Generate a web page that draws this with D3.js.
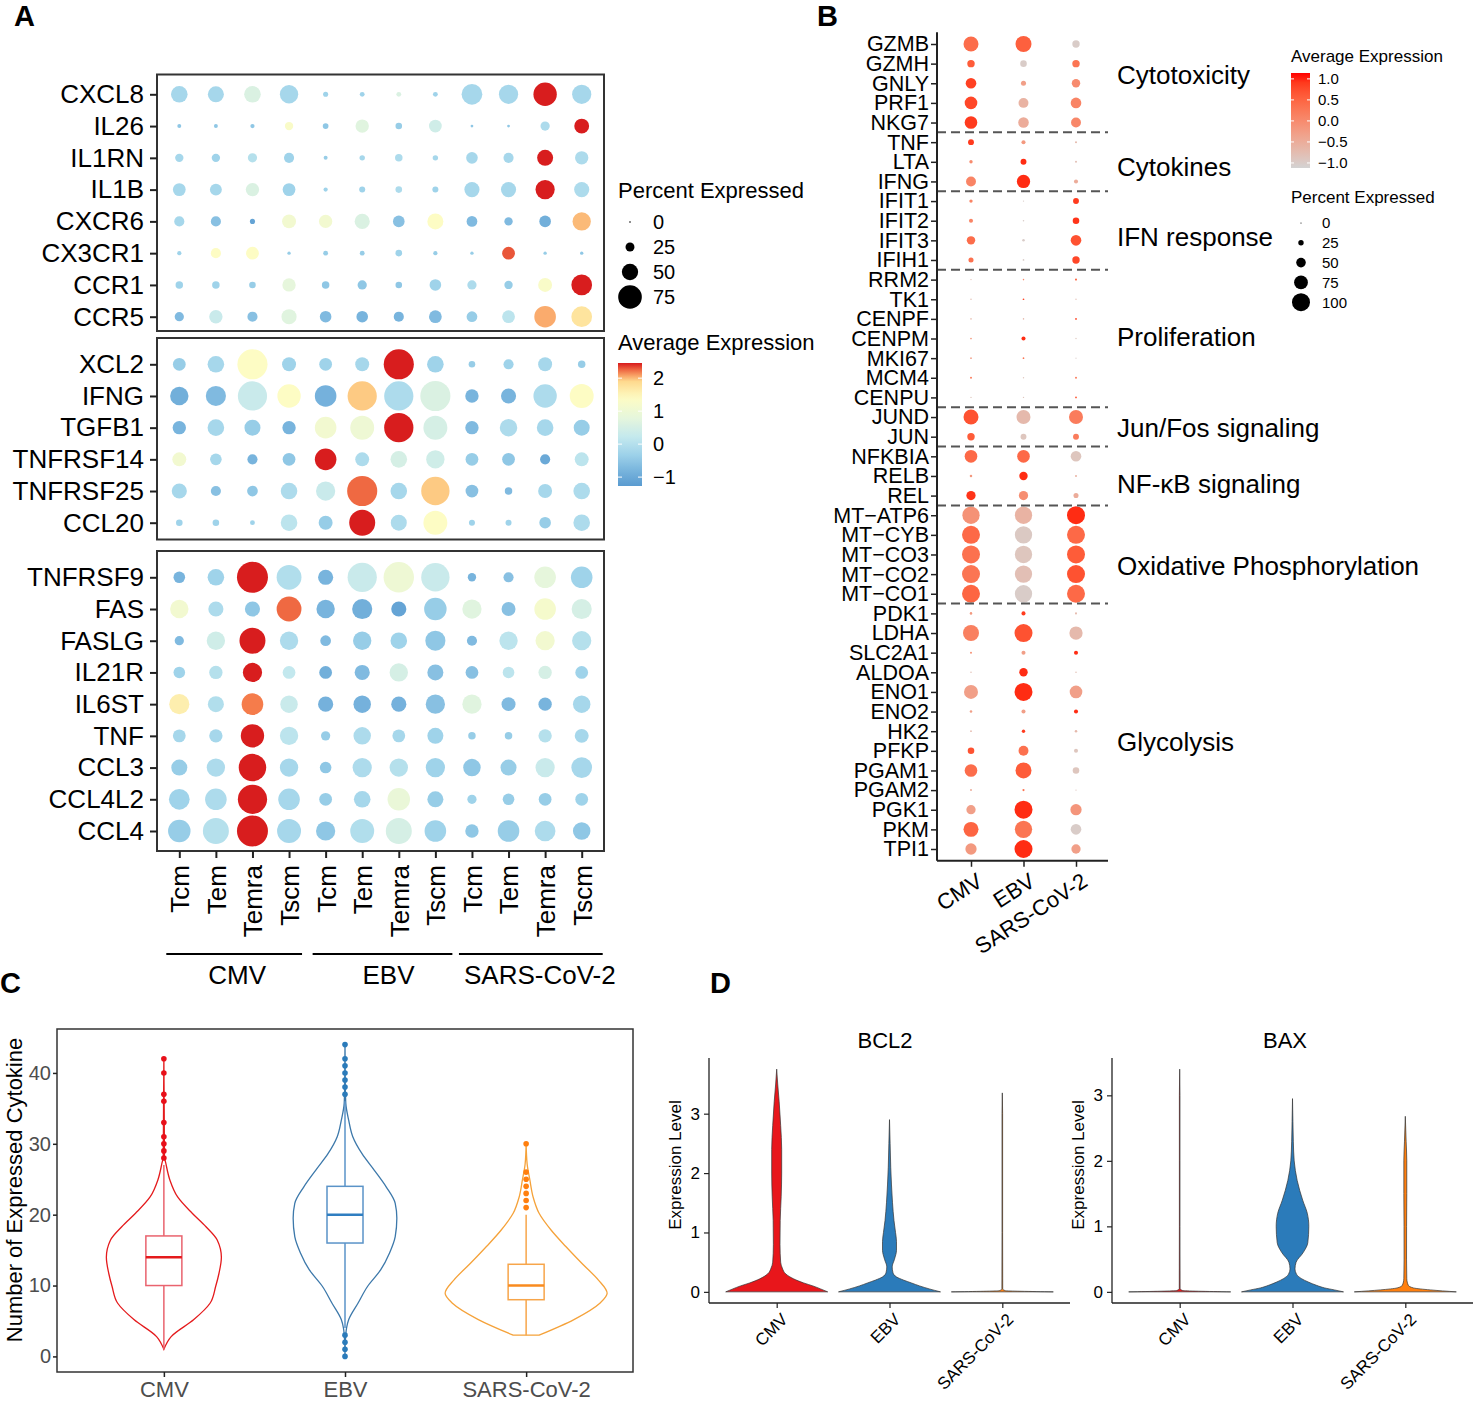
<!DOCTYPE html>
<html>
<head>
<meta charset="utf-8">
<script src="https://cdn.jsdelivr.net/npm/d3@7"></script>
<style>
  body { margin: 0; background: #fff; }
  svg { display: block; font-family: "Liberation Sans", Arial, Helvetica, sans-serif; }
</style>
</head>
<body>
<svg id="fig" width="1476" height="1401"></svg>
<script>
// ---------------- data ----------------
var viruses = ['CMV', 'EBV', 'SARS-CoV-2'];
var cellTypes = ['Tcm', 'Tem', 'Temra', 'Tscm'];

// panel A: each row = one gene, 12 columns = CMV(Tcm,Tem,Temra,Tscm), EBV(...), SARS-CoV-2(...)
var genesA1 = ['CXCL8', 'IL26', 'IL1RN', 'IL1B', 'CXCR6', 'CX3CR1', 'CCR1', 'CCR5'];
var avgA1 = [
  [-0.2, -0.2, 0.6, -0.2, -0.3, -0.3, 0.6, -0.3, -0.2, -0.2, 2.45, -0.2],
  [-0.5, -0.5, -0.5, 1.3, -0.5, 0.7, -0.4, 0.4, -0.5, -0.5, -0.1, 2.45],
  [-0.2, -0.3, 0, -0.3, -0.4, -0.2, -0.1, -0.2, -0.2, -0.2, 2.45, -0.1],
  [-0.2, -0.2, 0.6, -0.3, -0.3, -0.3, -0.1, -0.3, -0.2, -0.2, 2.45, -0.1],
  [-0.2, -0.6, -1.1, 1.1, 1.1, 0.6, -0.6, 1.4, -0.7, -0.7, -0.9, 2.0],
  [-0.3, 1.4, 1.4, -0.4, -0.4, -0.4, -0.3, -0.4, -0.4, 2.3, -0.4, -0.5],
  [-0.3, -0.3, -0.4, 0.8, -0.5, -0.5, -0.5, -0.3, -0.1, -0.4, 1.3, 2.45],
  [-0.7, 0.3, -0.6, 0.7, -0.7, -0.8, -0.8, -0.7, -0.4, 0.1, 2.05, 1.75]
];
var pctA1 = [
  [51, 49, 51, 57, 12, 11, 11, 11, 65, 60, 74, 60],
  [8, 8, 9, 23, 14, 40, 17, 38, 4, 4, 26, 45],
  [23, 23, 26, 29, 8, 13, 20, 13, 34, 29, 49, 40],
  [38, 35, 40, 38, 9, 15, 17, 15, 46, 46, 60, 46],
  [29, 29, 12, 42, 40, 46, 34, 49, 31, 23, 34, 57],
  [9, 29, 38, 6, 11, 11, 17, 9, 6, 38, 6, 6],
  [20, 20, 17, 40, 20, 26, 17, 34, 26, 23, 42, 65],
  [26, 40, 29, 46, 34, 34, 29, 38, 31, 38, 68, 65]
];

var genesA2 = ['XCL2', 'IFNG', 'TGFB1', 'TNFRSF14', 'TNFRSF25', 'CCL20'];
var avgA2 = [
  [-0.4, -0.2, 1.4, -0.3, -0.3, -0.2, 2.45, -0.3, -0.4, -0.3, -0.2, -0.4],
  [-0.9, -0.7, 0.3, 1.4, -0.85, 1.95, -0.1, 0.6, -0.8, -0.8, -0.1, 1.4],
  [-0.8, -0.2, -0.4, -0.8, 1.1, 1.0, 2.45, 0.5, -0.7, -0.1, -0.2, -0.4],
  [1.1, -0.2, -0.8, -0.5, 2.45, -0.1, 0.5, 0.4, -0.4, -0.5, -1.0, 0.1],
  [-0.2, -0.6, -0.5, -0.1, 0.3, 2.25, -0.2, 1.95, -0.6, -0.7, -0.2, -0.1],
  [-0.3, -0.3, -0.3, 0.1, -0.4, 2.45, -0.1, 1.4, -0.3, -0.3, -0.4, -0.1]
];
var pctA2 = [
  [38, 51, 97, 42, 38, 42, 97, 51, 17, 29, 42, 20],
  [57, 63, 94, 74, 68, 94, 94, 97, 40, 46, 74, 76],
  [40, 51, 49, 40, 68, 76, 94, 76, 40, 54, 51, 49],
  [42, 34, 29, 38, 68, 42, 51, 57, 38, 38, 29, 42],
  [46, 29, 31, 51, 60, 97, 51, 91, 38, 20, 42, 51],
  [17, 17, 11, 51, 42, 83, 49, 76, 15, 15, 34, 51]
];

var genesA3 = ['TNFRSF9', 'FAS', 'FASLG', 'IL21R', 'IL6ST', 'TNF', 'CCL3', 'CCL4L2', 'CCL4'];
var avgA3 = [
  [-0.8, -0.3, 2.45, -0.05, -0.8, 0.3, 1.0, 0.3, -0.8, -0.6, 0.8, -0.3],
  [1.1, -0.1, -0.5, 2.25, -0.8, -0.9, -1.1, -0.4, 0.7, -0.6, 1.2, 0.5],
  [-0.7, 0.4, 2.45, -0.1, -0.7, -0.4, -0.3, -0.5, -0.7, 0.1, 1.1, 0.0],
  [-0.3, 0, 2.45, 0.2, -0.9, -0.7, 0.5, -0.6, -0.6, 0.1, 0.5, -0.3],
  [1.6, -0.05, 2.2, 0.3, -0.85, -0.85, -0.85, -0.6, 0.7, -0.7, -0.8, -0.2],
  [-0.2, -0.2, 2.45, 0.1, -0.4, -0.1, -0.2, -0.3, -0.4, -0.4, 0, -0.2],
  [-0.4, -0.1, 2.45, -0.2, -0.5, -0.1, 0.0, -0.3, -0.5, -0.4, 0.3, -0.2],
  [-0.3, -0.1, 2.45, -0.2, -0.4, -0.2, 0.9, -0.4, -0.3, -0.4, -0.4, -0.3],
  [-0.4, 0, 2.45, -0.2, -0.5, -0.05, 0.5, -0.3, -0.5, -0.4, -0.1, -0.5]
];
var pctA3 = [
  [34, 51, 100, 79, 46, 94, 98, 91, 23, 29, 68, 68],
  [57, 46, 46, 79, 57, 63, 46, 71, 60, 42, 68, 63],
  [26, 57, 83, 57, 31, 57, 51, 63, 29, 57, 60, 60],
  [34, 40, 60, 38, 38, 46, 57, 49, 38, 34, 40, 38],
  [63, 49, 68, 54, 46, 54, 46, 60, 60, 42, 40, 54],
  [38, 40, 74, 57, 26, 54, 38, 49, 20, 20, 40, 42],
  [49, 57, 88, 57, 34, 60, 57, 60, 54, 49, 60, 65],
  [65, 68, 94, 68, 38, 51, 71, 49, 26, 34, 38, 38],
  [71, 83, 100, 76, 60, 76, 83, 68, 40, 68, 65, 54]
];
var sizeBreaksA = [0, 25, 50, 75];
var colorBreaksA = [2, 1, 0, -1];

// panel B: columns = CMV, EBV, SARS-CoV-2
var genesB = ['GZMB', 'GZMH', 'GNLY', 'PRF1', 'NKG7', 'TNF', 'LTA', 'IFNG', 'IFIT1', 'IFIT2', 'IFIT3', 'IFIH1',
  'RRM2', 'TK1', 'CENPF', 'CENPM', 'MKI67', 'MCM4', 'CENPU', 'JUND', 'JUN', 'NFKBIA', 'RELB', 'REL',
  'MT\u2212ATP6', 'MT\u2212CYB', 'MT\u2212CO3', 'MT\u2212CO2', 'MT\u2212CO1', 'PDK1', 'LDHA', 'SLC2A1', 'ALDOA',
  'ENO1', 'ENO2', 'HK2', 'PFKP', 'PGAM1', 'PGAM2', 'PGK1', 'PKM', 'TPI1'];
var avgB = [
  [0.4, 0.55, -1], [0.6, -1, 0.3], [0.85, -0.3, 0.0], [0.8, -0.6, 0.1], [0.9, -0.5, 0.05],
  [0.9, -0.2, -0.7], [0.0, 1.0, -0.8], [0.1, 1.0, -0.5],
  [0.1, -1, 0.9], [0.1, -1, 0.95], [0.4, -1, 0.7], [0.35, -1, 0.8],
  [-0.8, 0.0, 0.5], [-0.8, 0.8, -0.8], [-0.7, -0.7, 0.8], [-0.2, 1.0, -0.9], [-0.3, 0.3, -1], [0.3, -0.9, 0.3], [-0.9, -0.9, 0.6],
  [0.7, -0.7, 0.2], [0.6, -0.9, 0.2],
  [0.45, 0.45, -0.9], [-0.2, 1.0, -0.6], [0.95, -0.05, -0.5],
  [-0.1, -0.6, 1.0], [0.45, -0.95, 0.45], [0.35, -0.9, 0.6], [0.3, -0.8, 0.7], [0.5, -1, 0.45],
  [-0.2, 0.9, -0.7], [0.15, 0.7, -0.7], [-0.1, -0.3, 1.0], [-0.8, 1.0, -0.8], [-0.3, 1.0, -0.3],
  [-0.3, -0.3, 1.0], [-0.7, 0.9, -0.7], [0.7, 0.35, -0.9], [0.4, 0.6, -0.9], [-0.5, 0.3, -0.9],
  [-0.3, 1.0, -0.15], [0.5, 0.3, -1], [-0.2, 1.0, -0.3]
];
var pctB = [
  [82, 88, 37], [37, 32, 37], [56, 23, 43], [68, 52, 56], [68, 56, 52],
  [28, 17, 5], [13, 28, 5], [52, 72, 17],
  [13, 1, 28], [17, 2, 32], [43, 8, 56], [23, 3, 37],
  [1, 2, 5], [2, 3, 1], [2, 2, 4], [3, 17, 1], [3, 3, 0], [4, 1, 4], [1, 1, 4],
  [82, 76, 76], [37, 28, 28],
  [68, 68, 56], [8, 43, 5], [48, 48, 23],
  [96, 96, 100], [100, 96, 100], [100, 96, 100], [100, 96, 100], [100, 96, 100],
  [8, 17, 5], [88, 100, 72], [5, 17, 17], [2, 43, 2], [76, 100, 68],
  [8, 17, 17], [3, 13, 8], [32, 52, 17], [68, 88, 32], [5, 6, 1],
  [48, 100, 60], [82, 96, 56], [60, 100, 48]
];
var groupNamesB = ['Cytotoxicity', 'Cytokines', 'IFN response', 'Proliferation', 'Jun/Fos signaling',
  'NF-\u03baB signaling', 'Oxidative Phosphorylation', 'Glycolysis'];
var groupSizesB = [5, 3, 4, 7, 2, 3, 5, 13];
var sizeBreaksB = [0, 25, 50, 75, 100];
var colorBreaksB = [1, 0.5, 0, -0.5, -1];

// panel C: number of expressed cytokines per cell
var cQ1 = [10, 16, 8];
var cMedian = [14, 20, 10];
var cQ3 = [17, 24, 13];
var cWhiskLo = [1, 4, 3];
var cWhiskHi = [27, 36, 20];
var cOutliers = [
  [28, 29, 30, 31, 33, 36, 37, 40, 42],
  [0, 1, 2, 3, 37, 38, 39, 40, 41, 42, 44],
  [21, 22, 23, 24, 25, 26, 30]
];
var cmvLevels = [1, 2.8, 5.2, 7.5, 9.9, 11.7, 14, 16.4, 18.3, 20.2, 22.5, 24.9, 27.2, 28.2, 35, 42];
var cmvDensity = [0, 0.09, 0.37, 0.57, 0.64, 0.68, 0.71, 0.66, 0.52, 0.35, 0.17, 0.074, 0.025, 0.007, 0.004, 0];
var ebvLevels = [0, 2, 4, 5.2, 7.5, 9.9, 12.2, 14.6, 16.9, 19.5, 21.6, 23.9, 26.3, 28.6, 31, 33.3, 35.7, 38, 44];
var ebvDensity = [0, 0.004, 0.019, 0.046, 0.16, 0.28, 0.44, 0.55, 0.62, 0.64, 0.62, 0.51, 0.36, 0.21, 0.096, 0.046, 0.01, 0.004, 0];
var sarsLevels = [3, 5.2, 7.5, 8.9, 10.8, 13.1, 15.5, 17.8, 20.2, 22.5, 24.9, 27.2, 30];
var sarsDensity = [0.16, 0.59, 0.91, 1.0, 0.89, 0.69, 0.49, 0.31, 0.16, 0.086, 0.046, 0.012, 0];
var cTicks = [0, 10, 20, 30, 40];

// panel D: violin profiles (expression level, relative density)
var bcl2Levels = [
  [0, 0.05, 0.1, 0.15, 0.22, 0.3, 0.4, 0.5, 0.8, 1.2, 1.6, 2.0, 2.4, 2.8, 3.2, 3.5, 3.75],
  [0, 0.05, 0.1, 0.15, 0.2, 0.25, 0.32, 0.42, 0.55, 0.7, 0.85, 1.0, 1.2, 1.5, 1.8, 2.1, 2.5, 2.9],
  [0, 0.02, 0.05, 1, 2, 3, 3.35]
];
var bcl2Density = [
  [1, 0.86, 0.71, 0.53, 0.33, 0.18, 0.11, 0.078, 0.065, 0.069, 0.088, 0.098, 0.098, 0.078, 0.049, 0.02, 0],
  [1, 0.78, 0.59, 0.43, 0.27, 0.14, 0.069, 0.053, 0.098, 0.137, 0.137, 0.118, 0.088, 0.059, 0.039, 0.024, 0.012, 0],
  [1, 0.06, 0.008, 0.006, 0.006, 0.006, 0]
];
var baxLevels = [
  [0, 0.02, 0.05, 1, 2, 3, 3.4],
  [0, 0.03, 0.06, 0.1, 0.15, 0.2, 0.27, 0.35, 0.45, 0.6, 0.75, 1.0, 1.2, 1.4, 1.7, 2.0, 2.3, 2.6, 2.95],
  [0, 0.03, 0.06, 0.1, 0.2, 0.5, 1.0, 1.5, 2.0, 2.3, 2.68]
];
var baxDensity = [
  [1, 0.06, 0.008, 0.006, 0.006, 0.006, 0],
  [1, 0.82, 0.63, 0.47, 0.31, 0.18, 0.078, 0.049, 0.069, 0.21, 0.3, 0.32, 0.29, 0.2, 0.092, 0.033, 0.016, 0.008, 0],
  [1, 0.49, 0.16, 0.059, 0.029, 0.024, 0.025, 0.029, 0.029, 0.016, 0]
];
var dTicks = [0, 1, 2, 3];

// ---------------- drawing ----------------
var FONT = '"Liberation Sans", Arial, Helvetica, sans-serif';
var svg = d3.select('#fig');

function label(x, y, s, size, anchor, extra) {
  var t = svg.append('text').attr('x', x).attr('y', y).attr('font-size', size)
    .attr('text-anchor', anchor || 'start').attr('fill', '#000').text(s);
  if (extra) extra(t);
  return t;
}
function styleAxis(ax, size, color) {
  ax.attr('font-family', FONT).attr('font-size', size);
  ax.select('.domain').remove();
  ax.selectAll('text').attr('fill', color || '#000');
  ax.selectAll('line').attr('stroke', '#222').attr('stroke-width', 1.5);
}

// panel letters
[['A', 14, 26], ['B', 817, 26], ['C', 0, 993], ['D', 710, 993]].forEach(function(p) {
  label(p[1], p[2], p[0], 29, 'start', function(t) { t.attr('font-weight', 'bold'); });
});

// ===== panel A =====
var colsA = [];
viruses.forEach(function(v) { cellTypes.forEach(function(c) { colsA.push(v + '|' + c); }); });
var xA = d3.scalePoint().domain(colsA).range([179.3, 581.7]);
var rA = d3.scaleLinear().domain([0, 100]).range([0.8, 15.5]);
var colorA = d3.scaleLinear()
  .domain([-1.27, -0.8, -0.3, 0.2, 0.8, 1.4, 1.9, 2.2, 2.46])
  .range(['#5a9bd0', '#78b4dd', '#9fd3ea', '#c3e8ee', '#e6f6dc', '#fdfcc4', '#fed98e', '#f57c4b', '#d7191c'])
  .clamp(true);
var boxL = 157, boxR = 604;

var blocksA = [
  { genes: genesA1, avg: avgA1, pct: pctA1, top: 74.5, bottom: 331, first: 94.3, last: 316.7 },
  { genes: genesA2, avg: avgA2, pct: pctA2, top: 338, bottom: 539.5, first: 364.3, last: 522.7 },
  { genes: genesA3, avg: avgA3, pct: pctA3, top: 551, bottom: 851, first: 577.3, last: 831 }
];

blocksA.forEach(function(b, bi) {
  var y = d3.scalePoint().domain(b.genes).range([b.first, b.last]);
  var g = svg.append('g');
  var cells = [];
  b.genes.forEach(function(gene, i) {
    colsA.forEach(function(c, j) {
      cells.push({ gene: gene, col: c, avg: b.avg[i][j], pct: b.pct[i][j] });
    });
  });
  g.selectAll('circle').data(cells).enter().append('circle')
    .attr('cx', function(d) { return xA(d.col); })
    .attr('cy', function(d) { return y(d.gene); })
    .attr('r', function(d) { return rA(d.pct); })
    .attr('fill', function(d) { return colorA(d.avg); });
  g.append('rect').attr('x', boxL).attr('y', b.top).attr('width', boxR - boxL)
    .attr('height', b.bottom - b.top).attr('fill', 'none').attr('stroke', '#333').attr('stroke-width', 2);
  var ax = g.append('g').attr('transform', 'translate(' + boxL + ',0)')
    .call(d3.axisLeft(y).tickSize(7).tickPadding(6));
  styleAxis(ax, 26);
  ax.selectAll('line').attr('stroke-width', 2);

  if (bi === 2) {
    var bx = g.append('g').attr('transform', 'translate(0,' + b.bottom + ')')
      .call(d3.axisBottom(xA).tickSize(7).tickFormat(function(d) { return d.split('|')[1]; }));
    styleAxis(bx, 26);
    bx.selectAll('line').attr('stroke-width', 2);
    bx.selectAll('text').attr('transform', 'rotate(-90)').attr('text-anchor', 'end')
      .attr('x', -14).attr('y', 0).attr('dy', '0.36em');
  }
});

// group lines below the A x axis
viruses.forEach(function(v, i) {
  var x0 = xA(v + '|' + cellTypes[0]) - 13, x1 = xA(v + '|' + cellTypes[3]) + 13 + 4 * i;
  svg.append('line').attr('x1', x0).attr('x2', x1).attr('y1', 954).attr('y2', 954)
    .attr('stroke', '#000').attr('stroke-width', 2);
  label((x0 + x1) / 2 + 3 + 3 * i, 984, v, 26, 'middle');
});

// A legends
label(618, 198, 'Percent Expressed', 22);
sizeBreaksA.forEach(function(p, i) {
  var cy = 222 + i * 25;
  svg.append('circle').attr('cx', 630).attr('cy', cy).attr('r', rA(p)).attr('fill', '#000');
  label(653, cy, p, 20, 'start', function(t) { t.attr('dy', '0.36em'); });
});
label(618, 350, 'Average Expression', 22);
var barAy = d3.scaleLinear().domain([-1.27, 2.46]).range([486, 363]);
var defs = svg.append('defs');
var gradA = defs.append('linearGradient').attr('id', 'gradA').attr('x1', 0).attr('y1', 1).attr('x2', 0).attr('y2', 0);
d3.range(0, 1.0001, 0.05).forEach(function(t) {
  gradA.append('stop').attr('offset', t).attr('stop-color', colorA(-1.27 + t * (2.46 + 1.27)));
});
svg.append('rect').attr('x', 618).attr('y', barAy(2.46)).attr('width', 24)
  .attr('height', barAy(-1.27) - barAy(2.46)).attr('fill', 'url(#gradA)');
colorBreaksA.forEach(function(v) {
  var yy = barAy(v);
  svg.append('line').attr('x1', 618).attr('x2', 622).attr('y1', yy).attr('y2', yy).attr('stroke', '#fff');
  svg.append('line').attr('x1', 638).attr('x2', 642).attr('y1', yy).attr('y2', yy).attr('stroke', '#fff');
  label(653, yy, v < 0 ? '\u2212' + Math.abs(v) : v, 20, 'start', function(t) { t.attr('dy', '0.36em'); });
});

// ===== panel B =====
var xB = d3.scalePoint().domain(viruses).range([971, 1076]);
var yB = d3.scalePoint().domain(genesB).range([44, 849]);
var rB = d3.scaleLinear().domain([0, 100]).range([0.6, 9]);
var colorB = d3.scaleLinear().domain([-1.12, 1.14]).range(['#d3d3d3', '#ff0000'])
  .interpolate(d3.interpolateLab).clamp(true);
var bLeft = 937, bRight = 1108, bTop = 44 - 0.6 * yB.step(), bBottom = 849 + 0.6 * yB.step();
// small vertical nudges so the group names sit where the reference puts them
var groupNudgeB = [-9, 5, 6, -2, 1, 8, 11, 10];

var cellsB = [];
genesB.forEach(function(gene, i) {
  viruses.forEach(function(v, j) {
    cellsB.push({ gene: gene, virus: v, avg: avgB[i][j], pct: pctB[i][j] });
  });
});
svg.append('g').selectAll('circle').data(cellsB).enter().append('circle')
  .attr('cx', function(d) { return xB(d.virus); })
  .attr('cy', function(d) { return yB(d.gene); })
  .attr('r', function(d) { return rB(d.pct); })
  .attr('fill', function(d) { return colorB(d.avg); });

// dashed separators + group names
var start = 0;
groupNamesB.forEach(function(name, gi) {
  var first = genesB[start], last = genesB[start + groupSizesB[gi] - 1];
  var cy = (yB(first) + yB(last)) / 2 + groupNudgeB[gi];
  label(1117, cy, name, 26, 'start', function(t) { t.attr('dy', '0.36em'); });
  if (gi < groupNamesB.length - 1) {
    var yy = (yB(last) + yB(genesB[start + groupSizesB[gi]])) / 2;
    svg.append('line').attr('x1', bLeft).attr('x2', bRight).attr('y1', yy).attr('y2', yy)
      .attr('stroke', '#555').attr('stroke-width', 2).attr('stroke-dasharray', '9,5');
  }
  start += groupSizesB[gi];
});

svg.append('line').attr('x1', bLeft).attr('x2', bLeft).attr('y1', bTop).attr('y2', bBottom)
  .attr('stroke', '#222').attr('stroke-width', 2);
svg.append('line').attr('x1', bLeft).attr('x2', bRight).attr('y1', bBottom).attr('y2', bBottom)
  .attr('stroke', '#222').attr('stroke-width', 2);
var byAx = svg.append('g').attr('transform', 'translate(' + bLeft + ',0)')
  .call(d3.axisLeft(yB).tickSize(6).tickPadding(2));
styleAxis(byAx, 21.5);
var bxAx = svg.append('g').attr('transform', 'translate(0,' + bBottom + ')')
  .call(d3.axisBottom(xB).tickSize(6));
styleAxis(bxAx, 22);
bxAx.selectAll('text').attr('text-anchor', 'end').attr('y', 0).attr('dy', '0.71em')
  .attr('transform', 'translate(4,11) rotate(-33)');

// B legends
label(1291, 62, 'Average Expression', 17);
var barBy = d3.scaleLinear().domain([-1.12, 1.14]).range([168, 73]);
var gradB = defs.append('linearGradient').attr('id', 'gradB').attr('x1', 0).attr('y1', 1).attr('x2', 0).attr('y2', 0);
d3.range(0, 1.0001, 0.1).forEach(function(t) {
  gradB.append('stop').attr('offset', t).attr('stop-color', colorB(-1.12 + t * 2.26));
});
svg.append('rect').attr('x', 1291).attr('y', 73).attr('width', 19).attr('height', 95).attr('fill', 'url(#gradB)');
colorBreaksB.forEach(function(v) {
  var yy = barBy(v);
  svg.append('line').attr('x1', 1291).attr('x2', 1294).attr('y1', yy).attr('y2', yy).attr('stroke', '#fff');
  svg.append('line').attr('x1', 1307).attr('x2', 1310).attr('y1', yy).attr('y2', yy).attr('stroke', '#fff');
  label(1318, yy, d3.format('.1f')(v), 15, 'start', function(t) { t.attr('dy', '0.36em'); });
});
label(1291, 203, 'Percent Expressed', 17);
sizeBreaksB.forEach(function(p, i) {
  var cy = 223 + i * 19.8;
  svg.append('circle').attr('cx', 1301).attr('cy', cy).attr('r', rB(p)).attr('fill', '#000');
  label(1322, cy, p, 15, 'start', function(t) { t.attr('dy', '0.36em'); });
});

// ===== panel C =====
var cBox = { l: 57, r: 633, t: 1029, b: 1372 };
var xC = d3.scalePoint().domain(viruses).range([cBox.l, cBox.r]).padding(0.59);
var yC = d3.scaleLinear().domain([-2.2, 46.2]).range([cBox.b, cBox.t]);
var wC = d3.scaleLinear().domain([0, 1]).range([0, 81]);
var cViolinCol = ['#e41a1c', '#3c78aa', '#f5a23a'];
var cBoxCol = ['#e9636e', '#5a93c8', '#f7a54a'];
var cMedCol = ['#e41a1c', '#2f7ec1', '#f98b1f'];
var cDotCol = ['#e8101a', '#2b7bba', '#ff7f0e'];
var cProfiles = [[cmvLevels, cmvDensity], [ebvLevels, ebvDensity], [sarsLevels, sarsDensity]];

var gC = svg.append('g');
viruses.forEach(function(v, i) {
  var cx = xC(v);
  var pts = cProfiles[i][0].map(function(l, k) { return { v: l, d: cProfiles[i][1][k] }; });
  var area = d3.area().curve(d3.curveMonotoneY)
    .y(function(d) { return yC(d.v); })
    .x0(function(d) { return cx - wC(d.d); })
    .x1(function(d) { return cx + wC(d.d); });
  gC.append('path').attr('d', area(pts)).attr('fill', '#fff')
    .attr('stroke', cViolinCol[i]).attr('stroke-width', 1.3);
  // whiskers
  gC.append('line').attr('x1', cx).attr('x2', cx).attr('y1', yC(cWhiskLo[i])).attr('y2', yC(cQ1[i]))
    .attr('stroke', cBoxCol[i]).attr('stroke-width', 1.5);
  gC.append('line').attr('x1', cx).attr('x2', cx).attr('y1', yC(cQ3[i])).attr('y2', yC(cWhiskHi[i]))
    .attr('stroke', cBoxCol[i]).attr('stroke-width', 1.5);
  gC.append('rect').attr('x', cx - 18).attr('width', 36).attr('y', yC(cQ3[i]))
    .attr('height', yC(cQ1[i]) - yC(cQ3[i])).attr('fill', 'none')
    .attr('stroke', cBoxCol[i]).attr('stroke-width', 1.5);
  gC.append('line').attr('x1', cx - 18).attr('x2', cx + 18).attr('y1', yC(cMedian[i])).attr('y2', yC(cMedian[i]))
    .attr('stroke', cMedCol[i]).attr('stroke-width', 2.5);
  gC.selectAll(null).data(cOutliers[i]).enter().append('circle')
    .attr('cx', cx).attr('cy', function(d) { return yC(d); }).attr('r', 2.8).attr('fill', cDotCol[i]);
});
gC.append('rect').attr('x', cBox.l).attr('y', cBox.t).attr('width', cBox.r - cBox.l)
  .attr('height', cBox.b - cBox.t).attr('fill', 'none').attr('stroke', '#333').attr('stroke-width', 1.5);
var cyAx = gC.append('g').attr('transform', 'translate(' + cBox.l + ',0)')
  .call(d3.axisLeft(yC).tickValues(cTicks).tickSize(4).tickPadding(2));
styleAxis(cyAx, 20, '#4d4d4d');
var cxAx = gC.append('g').attr('transform', 'translate(0,' + cBox.b + ')')
  .call(d3.axisBottom(xC).tickSize(5).tickPadding(4));
styleAxis(cxAx, 22, '#4d4d4d');
label(0, 0, 'Number of Expressed Cytokine', 22, 'middle', function(t) {
  t.attr('transform', 'translate(22,1190) rotate(-90)');
});

// ===== panel D =====
var dCol = ['#e8161b', '#2b7bba', '#ff7f0e'];
var dPanels = [
  { title: 'BCL2', l: 709, r: 1070, titleX: 885, levels: bcl2Levels, dens: bcl2Density },
  { title: 'BAX', l: 1112, r: 1473, titleX: 1285, levels: baxLevels, dens: baxDensity }
];
var dTop = 1058, dBottom = 1303;
var wD = d3.scaleLinear().domain([0, 1]).range([0, 51]);

dPanels.forEach(function(p) {
  var g = svg.append('g');
  var maxV = d3.max(p.levels, function(a) { return d3.max(a); });
  var yD = d3.scaleLinear().domain([-0.05 * maxV, 1.05 * maxV]).range([dBottom, dTop]);
  var xD = d3.scalePoint().domain(viruses).range([p.l, p.r]).padding(0.6);
  viruses.forEach(function(v, i) {
    var cx = xD(v);
    var pts = p.levels[i].map(function(l, k) { return { v: l, d: p.dens[i][k] }; });
    var area = d3.area().curve(d3.curveMonotoneY)
      .y(function(d) { return yD(d.v); })
      .x0(function(d) { return cx - wD(d.d); })
      .x1(function(d) { return cx + wD(d.d); });
    g.append('path').attr('d', area(pts)).attr('fill', dCol[i])
      .attr('stroke', '#333').attr('stroke-width', 0.7);
  });
  g.append('line').attr('x1', p.l).attr('x2', p.l).attr('y1', dTop).attr('y2', dBottom)
    .attr('stroke', '#222').attr('stroke-width', 1.3);
  g.append('line').attr('x1', p.l).attr('x2', p.r).attr('y1', dBottom).attr('y2', dBottom)
    .attr('stroke', '#222').attr('stroke-width', 1.3);
  var yAx = g.append('g').attr('transform', 'translate(' + p.l + ',0)')
    .call(d3.axisLeft(yD).tickValues(dTicks).tickFormat(d3.format('d')).tickSize(5).tickPadding(4));
  styleAxis(yAx, 17);
  yAx.selectAll('line').attr('stroke-width', 1.2);
  var xAx = g.append('g').attr('transform', 'translate(0,' + dBottom + ')')
    .call(d3.axisBottom(xD).tickSize(5));
  styleAxis(xAx, 17);
  xAx.selectAll('line').attr('stroke-width', 1.2);
  xAx.selectAll('text').attr('text-anchor', 'end').attr('y', 0).attr('dy', '0.71em')
    .attr('transform', 'translate(3,9) rotate(-45)');
  label(p.titleX, 1048, p.title, 22, 'middle');
  label(0, 0, 'Expression Level', 17, 'middle', function(t) {
    t.attr('transform', 'translate(' + (p.l - 28) + ',1165) rotate(-90)');
  });
});
</script>
</body>
</html>
